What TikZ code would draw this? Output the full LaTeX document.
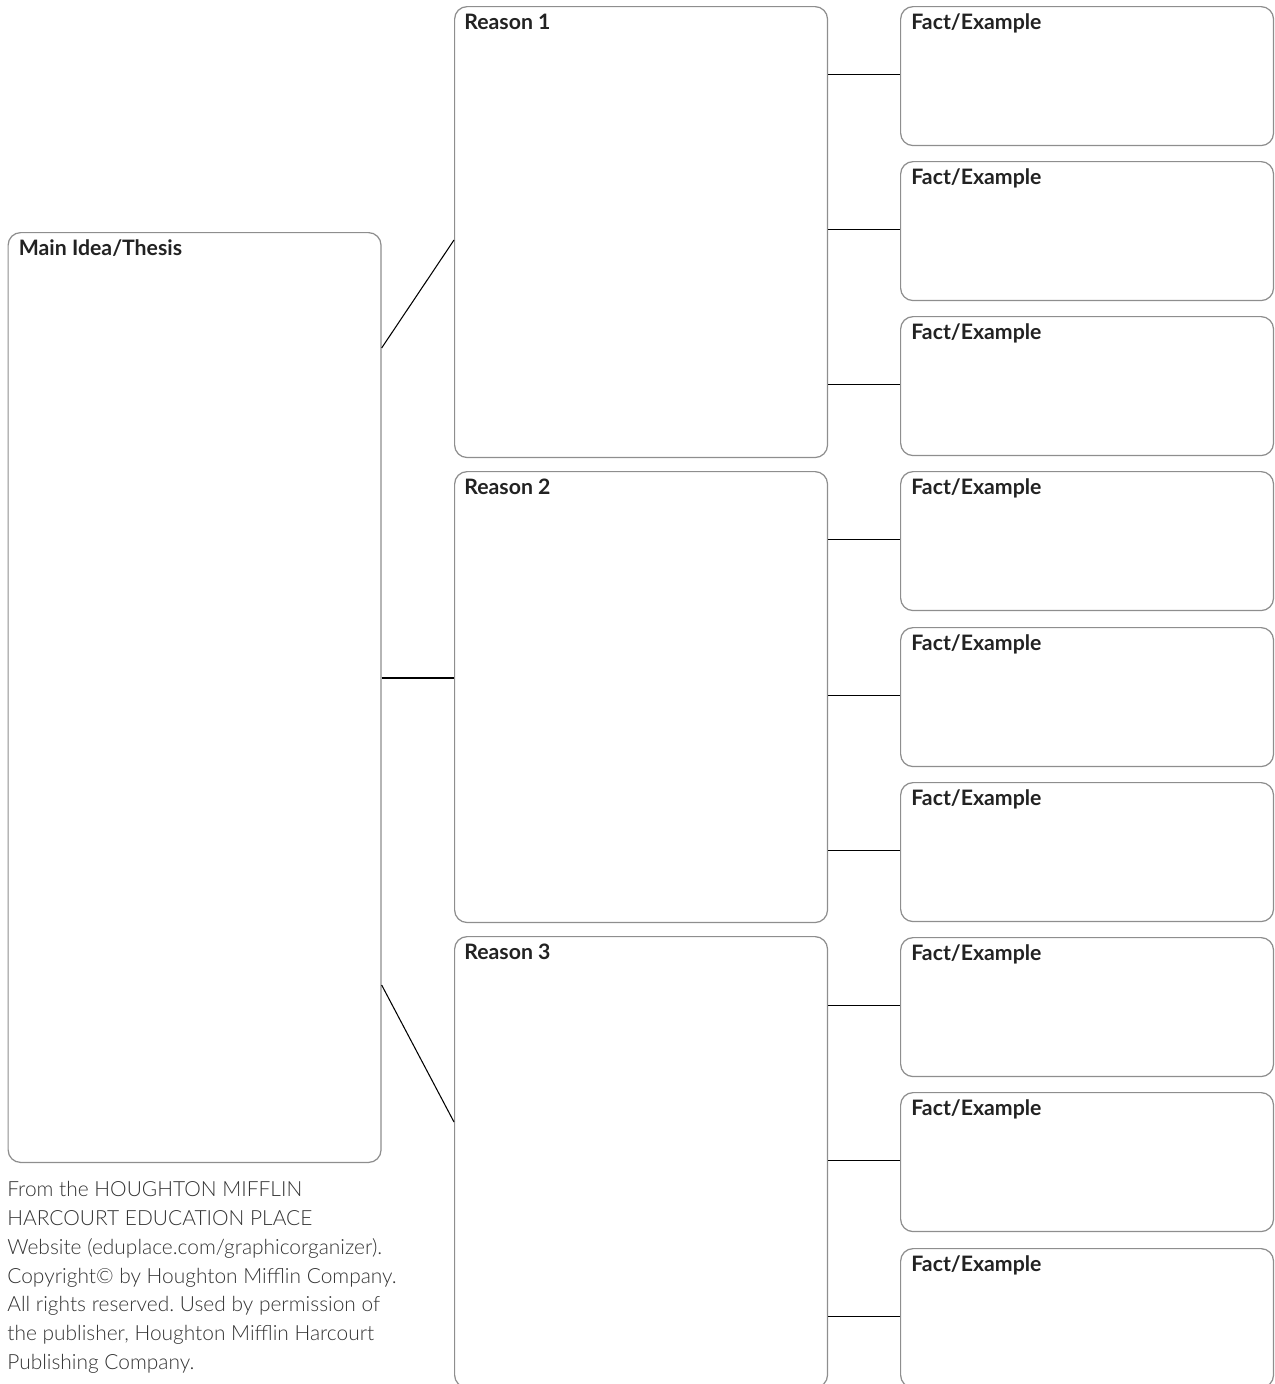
\documentclass[tikz,border=0pt]{standalone}
\usepackage{fontspec}
\setmainfont{Lato}
\newfontfamily\lightfont{Lato Light}
\usetikzlibrary{calc}
\definecolor{boxgray}{HTML}{8E8E8E}
\definecolor{inkgray}{HTML}{222222}
\definecolor{notegray}{HTML}{333333}
\frenchspacing

\begin{document}
\begin{tikzpicture}[x=0.02cm,y=-0.02cm,
	box/.style={draw=boxgray,line width=0.7pt,rounded corners=0.25cm,anchor=north west,minimum width=7.46cm,inner sep=0pt},
	thesisbox/.style={box,minimum height=18.6cm},
	reasonbox/.style={box,minimum height=9.02cm},
	factbox/.style={box,minimum height=2.78cm},
	title/.style={anchor=base west,inner sep=0pt,font=\fontsize{12.1}{14}\selectfont\bfseries,text=inkgray},
	note/.style={anchor=north west,inner sep=0pt,align=left,font=\lightfont\fontsize{11.9}{16.4}\selectfont,text=notegray},
	link/.style={line width=0.6pt}]
	\useasboundingbox (0,0) rectangle (1275,1384);
	\clip (0,0) rectangle (1275,1384);
	\node[thesisbox] (main) at (7.5,232) {};
	\node[reasonbox] (r1) at (454,6) {};
	\node[reasonbox] (r2) at (454,471) {};
	\node[reasonbox] (r3) at (454,936) {};
	\node[factbox] (f1) at (900,6) {};
	\node[factbox] (f2) at (900,161) {};
	\node[factbox] (f3) at (900,316) {};
	\node[factbox] (f4) at (900,471) {};
	\node[factbox] (f5) at (900,627) {};
	\node[factbox] (f6) at (900,782) {};
	\node[factbox] (f7) at (900,937) {};
	\node[factbox] (f8) at (900,1092) {};
	\node[factbox] (f9) at (900,1248) {};
	\node[title] (maintitle) at ($(main.north west)+(11,23)$) {Main Idea/Thesis};
	\node[title] (r1title) at ($(r1.north west)+(10,23)$) {Reason 1};
	\node[title] (r2title) at ($(r2.north west)+(10,23)$) {Reason 2};
	\node[title] (r3title) at ($(r3.north west)+(10,23)$) {Reason 3};
	\node[title] (f1title) at ($(f1.north west)+(11,23)$) {Fact/Example};
	\node[title] (f2title) at ($(f2.north west)+(11,23)$) {Fact/Example};
	\node[title] (f3title) at ($(f3.north west)+(11,23)$) {Fact/Example};
	\node[title] (f4title) at ($(f4.north west)+(11,23)$) {Fact/Example};
	\node[title] (f5title) at ($(f5.north west)+(11,23)$) {Fact/Example};
	\node[title] (f6title) at ($(f6.north west)+(11,23)$) {Fact/Example};
	\node[title] (f7title) at ($(f7.north west)+(11,23)$) {Fact/Example};
	\node[title] (f8title) at ($(f8.north west)+(11,23)$) {Fact/Example};
	\node[title] (f9title) at ($(f9.north west)+(11,23)$) {Fact/Example};
	\draw[link] ($(main.north east)+(0,116)$) -- ($(r1.north west)+(0,234)$);
	\draw[link] ($(main.north east)+(0,446)$) -- ($(r2.north west)+(0,207)$);
	\draw[link] ($(main.north east)+(0,753)$) -- ($(r3.north west)+(0,186)$);
	\draw[link] ([yshift=0.03cm]f1.west -| r1.east) -- ([yshift=0.03cm]f1.west);
	\draw[link] ([yshift=0.03cm]f2.west -| r1.east) -- ([yshift=0.03cm]f2.west);
	\draw[link] ([yshift=0.03cm]f3.west -| r1.east) -- ([yshift=0.03cm]f3.west);
	\draw[link] ([yshift=0.03cm]f4.west -| r2.east) -- ([yshift=0.03cm]f4.west);
	\draw[link] ([yshift=0.03cm]f5.west -| r2.east) -- ([yshift=0.03cm]f5.west);
	\draw[link] ([yshift=0.03cm]f6.west -| r2.east) -- ([yshift=0.03cm]f6.west);
	\draw[link] ([yshift=0.03cm]f7.west -| r3.east) -- ([yshift=0.03cm]f7.west);
	\draw[link] ([yshift=0.03cm]f8.west -| r3.east) -- ([yshift=0.03cm]f8.west);
	\draw[link] ([yshift=0.03cm]f9.west -| r3.east) -- ([yshift=0.03cm]f9.west);
	\node[note] (credit) at (7,1181) {From the HOUGHTON MIFFLIN\\HARCOURT EDUCATION PLACE\\Website (eduplace.com/graphicorganizer).\\Copyright© by Houghton Mifflin Company.\\All rights reserved. Used by permission of\\the publisher, Houghton Mifflin Harcourt\\Publishing Company.};
\end{tikzpicture}
\end{document}
